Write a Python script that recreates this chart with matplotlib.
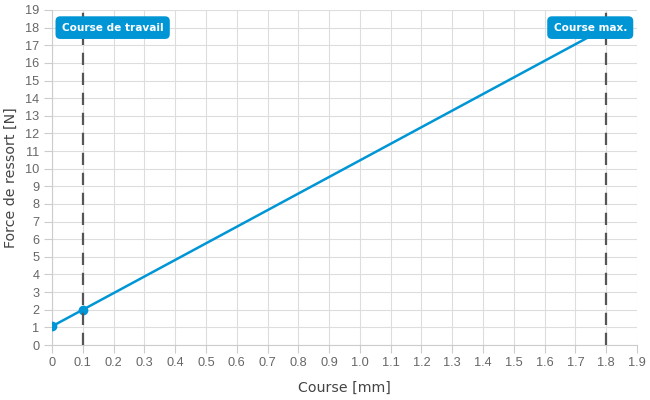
import matplotlib
matplotlib.use("Agg")
import matplotlib.pyplot as plt

# spring curve: stroke [mm] -> force [N]
stroke = [0.0, 0.1, 1.8]
force = [1.06, 2.0, 18.0]
marked_stroke = [0.0, 0.1]
marked_force = [1.06, 2.0]

x_ticks = [i / 10 for i in range(20)]
x_tick_labels = ["0"] + [f"{v:.1f}" for v in x_ticks[1:]]
y_ticks = list(range(20))

work_stroke = 0.1
max_stroke = 1.8
label_y = 18

blue = "#0096d6"
grey_txt = "#666666"

plt.rcParams["font.family"] = ["DejaVu Sans"]

fig = plt.figure(figsize=(6.5, 4), dpi=100)
ax = fig.add_axes([0.08, 0.1375, 0.9, 0.8375])

ax.plot(stroke, force, color=blue, lw=1.8, zorder=3)
ax.plot(marked_stroke, marked_force, "o", color=blue, ms=6, zorder=4)

for xv in (work_stroke, max_stroke):
    ax.axvline(xv, color="#555555", lw=1.6, ls=(0, (5.5, 3.5)), zorder=5)

box = dict(boxstyle="round,pad=0.6,rounding_size=0.45", fc=blue, ec="none")
ax.annotate("Course de travail", (work_stroke, label_y), xytext=(21.5, 0),
            textcoords="offset points", ha="center", va="center",
            color="white", fontsize=7.6, fontweight="bold", bbox=box, zorder=6)
ax.annotate("Course max.", (max_stroke, label_y), xytext=(-11.5, 0),
            textcoords="offset points", ha="center", va="center",
            color="white", fontsize=7.6, fontweight="bold", bbox=box, zorder=6)

ax.set_xlim(0, 1.9)
ax.set_ylim(0, 19)
ax.set_xticks(x_ticks)
ax.set_xticklabels(x_tick_labels)
ax.set_yticks(y_ticks)
ax.tick_params(labelcolor=grey_txt, color="#cccccc", labelsize=9.2, length=6, width=0.8, pad=3)
for lbl in ax.get_xticklabels() + ax.get_yticklabels():
    lbl.set_family("Liberation Sans")
ax.grid(True, color="#dddddd", lw=0.8)
ax.set_axisbelow(True)
for s in ("top", "right"):
    ax.spines[s].set_visible(False)
for s in ("left", "bottom"):
    ax.spines[s].set_color("#cccccc")

ax.set_xlabel("Course [mm]", fontsize=10.2, color="#444444", labelpad=8)
ax.set_ylabel("Force de ressort [N]", fontsize=10.2, color="#444444", labelpad=5)

fig.savefig("out.png", dpi=100)
